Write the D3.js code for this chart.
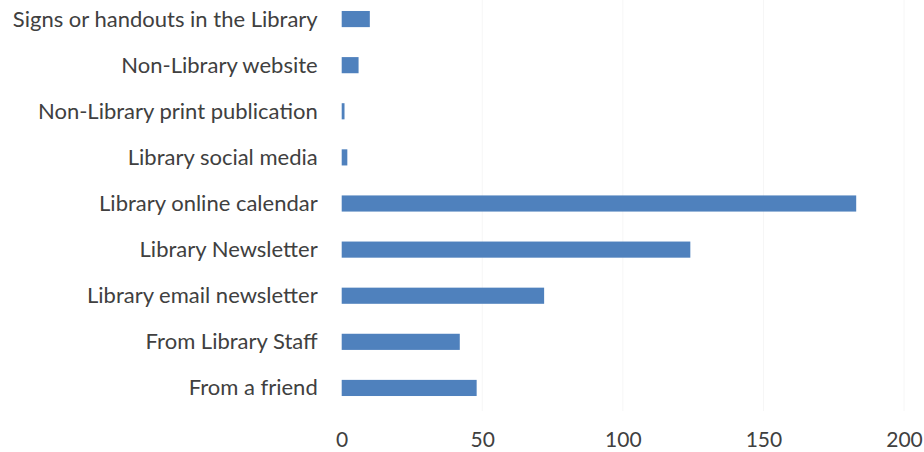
<!DOCTYPE html>
<html>
<head>
<meta charset="utf-8">
<script src="https://cdn.jsdelivr.net/npm/d3@7"></script>
<style>
  html, body { margin: 0; padding: 0; background: #fff; }
  svg { display: block; }
  text { font-family: Lato, "Open Sans", sans-serif; fill: #404040; }
</style>
</head>
<body>
<svg id="chart" width="924" height="452"></svg>
<script>
// How people heard about library events (responses per source)
const categories = [
  "Signs or handouts in the Library",
  "Non-Library website",
  "Non-Library print publication",
  "Library social media",
  "Library online calendar",
  "Library Newsletter",
  "Library email newsletter",
  "From Library Staff",
  "From a friend"
];
const responses = [10, 6, 1, 2, 183, 124, 72, 42, 48];
const xTicks = [0, 50, 100, 150, 200];

const svg = d3.select("#chart");
const margin = { left: 341.7, right: 20, top: -4, bottom: 41 };
const width = 924, height = 452;

const x = d3.scaleLinear()
  .domain([0, 200])
  .range([margin.left, 904]);

const y = d3.scaleBand()
  .domain(categories)
  .range([margin.top, height - margin.bottom])
  .paddingInner(0.65)
  .paddingOuter(0.325);

// faint vertical gridlines
svg.append("g")
  .selectAll("line")
  .data(xTicks.slice(1))
  .join("line")
  .attr("x1", d => x(d)).attr("x2", d => x(d))
  .attr("y1", 0).attr("y2", height - margin.bottom)
  .attr("stroke", "#f6f6f6")
  .attr("stroke-width", 1);

// bars
svg.append("g")
  .selectAll("rect")
  .data(categories.map((c, i) => ({ c, v: responses[i] })))
  .join("rect")
  .attr("x", x(0))
  .attr("y", d => y(d.c))
  .attr("width", d => x(d.v) - x(0))
  .attr("height", y.bandwidth())
  .attr("fill", "#4F81BD");

// category axis
const yAxis = svg.append("g")
  .attr("transform", `translate(${x(0) - 24},0)`)
  .call(d3.axisLeft(y).tickSize(0).tickPadding(0));
yAxis.select(".domain").remove();
yAxis.selectAll("text")
  .attr("font-size", 22)
  .attr("dy", "0.34em")
  .style("font-family", "Lato, 'Open Sans', sans-serif")
  .attr("fill", "#404040");

// value axis (labels sit on a baseline near the bottom edge)
const xAxis = svg.append("g")
  .attr("transform", `translate(0,447)`)
  .call(d3.axisBottom(x).tickValues(xTicks).tickSize(0).tickPadding(0));
xAxis.select(".domain").remove();
xAxis.selectAll("text")
  .attr("font-size", 21)
  .attr("y", 0)
  .attr("dy", 0)
  .style("font-family", "Lato, 'Open Sans', sans-serif")
  .attr("fill", "#4a4a4a");
</script>
</body>
</html>
